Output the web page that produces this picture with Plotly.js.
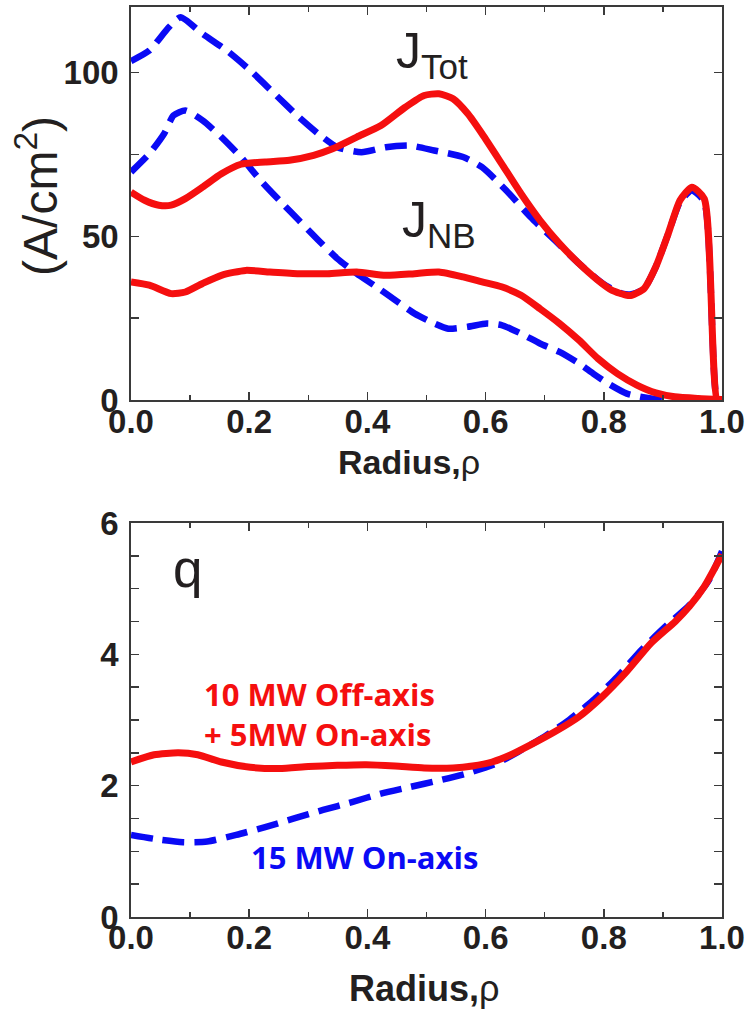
<!DOCTYPE html>
<html>
<head>
<meta charset="utf-8">
<script src="https://cdn.plot.ly/plotly-3.0.1.min.js"></script>
<style>html,body{margin:0;padding:0;background:#fff;}#chart{width:756px;height:1011px;}</style>
</head>
<body>
<div id="chart"></div>
<script>
// ---- Top panel: current density profiles (A/cm^2) ----
const jTotOnX = [0.0, 0.031, 0.064, 0.084, 0.121, 0.162, 0.202, 0.243, 0.284, 0.317, 0.349, 0.390, 0.431, 0.472, 0.513, 0.562, 0.594, 0.635, 0.676, 0.717, 0.758, 0.798, 0.831, 0.847, 0.868, 0.888, 0.909, 0.929, 0.949, 0.970, 0.992, 1.0];
const jTotOnY = [103.5, 106.7, 113.8, 116.9, 111.8, 106.7, 100.6, 93.5, 86.4, 81.3, 77.2, 75.7, 77.2, 77.7, 76.2, 74.2, 71.1, 64.0, 55.9, 48.8, 41.7, 35.6, 32.5, 32.3, 34.0, 40.7, 50.8, 60.5, 64.0, 60.5, 0, 0];

const jTotOffX = [0.0, 0.023, 0.047, 0.068, 0.092, 0.121, 0.153, 0.186, 0.227, 0.268, 0.309, 0.341, 0.382, 0.423, 0.464, 0.496, 0.521, 0.545, 0.570, 0.594, 0.627, 0.660, 0.692, 0.725, 0.758, 0.790, 0.814, 0.839, 0.847, 0.868, 0.888, 0.909, 0.929, 0.949, 0.970, 0.992, 1.0];
const jTotOffY = [63.5, 61.0, 59.5, 59.5, 61.5, 65.0, 69.1, 72.0, 72.7, 73.2, 74.7, 76.7, 80.3, 83.8, 89.4, 93.0, 93.5, 92.0, 87.4, 81.3, 72.2, 63.0, 54.9, 47.8, 41.7, 36.6, 33.5, 32.0, 32.0, 34.0, 40.7, 50.8, 61.0, 65.0, 61.5, 0, 0];

const jNbOnX = [0.0, 0.031, 0.056, 0.072, 0.092, 0.121, 0.153, 0.186, 0.219, 0.251, 0.284, 0.317, 0.349, 0.382, 0.415, 0.447, 0.480, 0.513, 0.537, 0.570, 0.602, 0.627, 0.660, 0.692, 0.725, 0.758, 0.782, 0.807, 0.839, 0.880, 0.920, 1.0];
const jNbOnY = [69.6, 75.2, 81.3, 86.9, 88.4, 85.4, 80.3, 74.2, 67.1, 61.0, 54.9, 48.8, 43.2, 38.6, 34.6, 30.5, 26.4, 23.4, 21.8, 22.4, 23.4, 22.9, 20.3, 17.3, 14.7, 11.2, 8.1, 5.1, 2.0, 0.5, 0.0, 0.0];

const jNbOffX = [0.0, 0.031, 0.068, 0.092, 0.121, 0.153, 0.194, 0.235, 0.284, 0.333, 0.382, 0.431, 0.480, 0.521, 0.562, 0.594, 0.627, 0.660, 0.692, 0.725, 0.758, 0.790, 0.823, 0.856, 0.888, 0.920, 0.960, 1.0];
const jNbOffY = [36.1, 35.1, 32.5, 33.0, 35.6, 38.1, 39.6, 39.1, 38.6, 38.6, 39.1, 38.1, 38.6, 39.1, 37.6, 36.1, 34.6, 32.0, 27.9, 23.4, 18.3, 12.7, 8.1, 4.6, 2.2, 1.0, 0.5, 0.2];

// ---- Bottom panel: safety factor q ----
const qOffX = [0.0, 0.039, 0.080, 0.113, 0.153, 0.202, 0.251, 0.300, 0.349, 0.398, 0.447, 0.496, 0.545, 0.578, 0.611, 0.643, 0.676, 0.717, 0.758, 0.798, 0.839, 0.880, 0.921, 0.945, 0.970, 1.0];
const qOffY = [2.36, 2.47, 2.50, 2.47, 2.36, 2.28, 2.26, 2.29, 2.31, 2.32, 2.30, 2.27, 2.27, 2.30, 2.36, 2.47, 2.62, 2.82, 3.05, 3.36, 3.74, 4.17, 4.50, 4.73, 5.03, 5.52];

const qOnX = [0.0, 0.047, 0.088, 0.129, 0.178, 0.227, 0.276, 0.325, 0.374, 0.423, 0.472, 0.521, 0.570, 0.619, 0.660, 0.700, 0.741, 0.782, 0.823, 0.864, 0.904, 0.945, 0.978, 1.0];
const qOnY = [1.25, 1.18, 1.14, 1.15, 1.25, 1.37, 1.50, 1.63, 1.75, 1.88, 1.98, 2.08, 2.19, 2.34, 2.54, 2.75, 3.00, 3.30, 3.66, 4.07, 4.42, 4.75, 5.13, 5.57];

const xTickVals = [0, 0.2, 0.4, 0.6, 0.8, 1.0];
const xTickText = ['0.0', '0.2', '0.4', '0.6', '0.8', '1.0'];
const jTickVals = [0, 50, 100];
const jTickText = ['0', '50', '100'];
const qTickVals = [0, 2, 4, 6];
const qTickText = ['0', '2', '4', '6'];

const labelJTot = 'J<sub>Tot</sub>';
const labelJNB = 'J<sub>NB</sub>';
const labelQ = 'q';
const labelOff1 = '10 MW Off-axis';
const labelOff2 = '+ 5MW On-axis';
const labelOn = '15 MW On-axis';
const labelX = '<b>Radius,</b>ρ';
const labelY = '(A/cm<sup>2</sup>)';

const RED = '#f50f0f';
const BLUE = '#0a0af5';
const AX = '#3a3a3a';
const TXT = '#231f20';

function blue(x, y, xa, ya) {
  return {x: x, y: y, xaxis: xa, yaxis: ya, type: 'scatter', mode: 'lines',
    line: {color: BLUE, width: 6.5, dash: '22px,10px', shape: 'spline', smoothing: 0.6}, hoverinfo: 'skip'};
}
function red(x, y, xa, ya) {
  return {x: x, y: y, xaxis: xa, yaxis: ya, type: 'scatter', mode: 'lines',
    line: {color: RED, width: 7, shape: 'spline', smoothing: 0.6}, hoverinfo: 'skip'};
}

const data = [
  blue(jTotOnX, jTotOnY, 'x', 'y'),
  blue(jNbOnX, jNbOnY, 'x', 'y'),
  red(jTotOffX, jTotOffY, 'x', 'y'),
  red(jNbOffX, jNbOffY, 'x', 'y'),
  blue(qOnX, qOnY, 'x2', 'y2'),
  red(qOffX, qOffY, 'x2', 'y2')
];

const tickFont = {family: 'Liberation Sans, Arial, sans-serif', size: 33, color: TXT, weight: 'bold'};

function xaxisDef(anchor) {
  return {anchor: anchor, domain: [0, 1], range: [0, 1], tickvals: xTickVals, ticktext: xTickText,
    ticks: 'inside', ticklen: 8, tickwidth: 1.5, tickcolor: AX, showline: true, linecolor: AX, linewidth: 1.8,
    mirror: 'ticks', showgrid: false, zeroline: false, tickfont: tickFont, ticklabelstandoff: -9,
    minor: {dtick: 0.1, tick0: 0, ticks: 'inside', ticklen: 5, tickwidth: 1.5, tickcolor: AX, showgrid: false}};
}
function yaxisDef(anchor, domain, range, tv, tt, minorStep) {
  return {anchor: anchor, domain: domain, range: range, tickvals: tv, ticktext: tt,
    ticks: 'inside', ticklen: 8, tickwidth: 1.5, tickcolor: AX, showline: true, linecolor: AX, linewidth: 1.8,
    mirror: 'ticks', showgrid: false, zeroline: false, tickfont: tickFont, ticklabelstandoff: 4,
    minor: {dtick: minorStep, tick0: 0, ticks: 'inside', ticklen: 8, tickwidth: 1.5, tickcolor: AX, showgrid: false}};
}

const annFont = {family: 'Liberation Sans, Arial, sans-serif', color: TXT};

const layout = {
  width: 756, height: 1011,
  margin: {l: 131, r: 34, t: 7, b: 94},
  paper_bgcolor: '#ffffff', plot_bgcolor: '#ffffff',
  showlegend: false,
  xaxis: xaxisDef('y'),
  yaxis: yaxisDef('x', [0.568, 1], [0, 120], jTickVals, jTickText, 25),
  xaxis2: xaxisDef('y2'),
  yaxis2: yaxisDef('x2', [0, 0.433], [0, 6], qTickVals, qTickText, 0.5),
  annotations: [
    {xref: 'x', yref: 'y', x: 0.445, y: 105.5, xanchor: 'left', yanchor: 'middle', text: labelJTot, showarrow: false,
      font: Object.assign({size: 50}, annFont)},
    {xref: 'x', yref: 'y', x: 0.455, y: 54, xanchor: 'left', yanchor: 'middle', text: labelJNB, showarrow: false,
      font: Object.assign({size: 50}, annFont)},
    {xref: 'x2', yref: 'y2', x: 0.067, y: 5.3, xanchor: 'left', yanchor: 'middle', text: labelQ, showarrow: false,
      font: Object.assign({size: 53}, annFont)},
    {xref: 'x2', yref: 'y2', x: 0.12, y: 3.40, xanchor: 'left', yanchor: 'middle', text: labelOff1, showarrow: false,
      font: {family: 'Open Sans, sans-serif', size: 31, color: RED, weight: 'bold'}},
    {xref: 'x2', yref: 'y2', x: 0.12, y: 2.79, xanchor: 'left', yanchor: 'middle', text: labelOff2, showarrow: false,
      font: {family: 'Open Sans, sans-serif', size: 31, color: RED, weight: 'bold'}},
    {xref: 'x2', yref: 'y2', x: 0.199, y: 0.91, xanchor: 'left', yanchor: 'middle', text: labelOn, showarrow: false,
      font: {family: 'Open Sans, sans-serif', size: 31, color: BLUE, weight: 'bold'}},
    {xref: 'paper', yref: 'paper', x: 0.47, y: 0.5, xanchor: 'center', yanchor: 'middle', text: labelX, showarrow: false,
      font: {family: 'Liberation Sans, Arial, sans-serif', size: 34, color: TXT}},
    {xref: 'paper', yref: 'paper', x: 0.497, y: -0.079, xanchor: 'center', yanchor: 'middle', text: labelX, showarrow: false,
      font: {family: 'Liberation Sans, Arial, sans-serif', size: 36, color: TXT}},
    {xref: 'paper', yref: 'paper', x: -0.158, y: 0.792, xanchor: 'center', yanchor: 'middle', text: labelY, showarrow: false,
      textangle: -90, font: {family: 'Liberation Sans, Arial, sans-serif', size: 48, color: TXT}}
  ]
};

Plotly.newPlot('chart', data, layout, {staticPlot: true, displayModeBar: false});
</script>
</body>
</html>
